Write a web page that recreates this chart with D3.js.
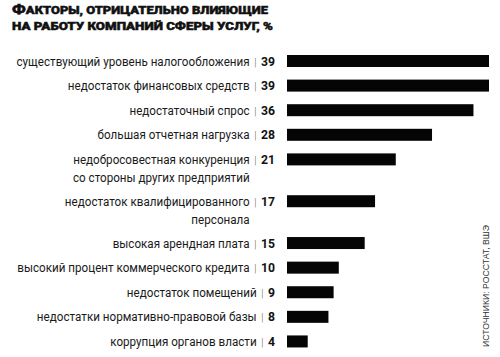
<!DOCTYPE html>
<html><head><meta charset="utf-8">
<script src="https://cdn.jsdelivr.net/npm/d3@7"></script>
<style>
html,body{margin:0;padding:0;background:#fff;}
svg{display:block;}
</style></head>
<body>
<script>
const titleLines = ["Факторы, отрицательно влияющие", "на работу компаний сферы услуг, %"];
const categories = [
  ["существующий уровень налогообложения"],
  ["недостаток финансовых средств"],
  ["недостаточный спрос"],
  ["большая отчетная нагрузка"],
  ["недобросовестная конкуренция", "со стороны других предприятий"],
  ["недостаток квалифицированного", "персонала"],
  ["высокая арендная плата"],
  ["высокий процент коммерческого кредита"],
  ["недостаток помещений"],
  ["недостатки нормативно-правовой базы"],
  ["коррупция органов власти"]
];
const values = [39, 39, 36, 28, 21, 17, 15, 10, 9, 8, 4];
const source = "ИСТОЧНИКИ: РОССТАТ, ВШЭ";

const W = 500, H = 357;
const svg = d3.select("body").append("svg").attr("width", W).attr("height", H);

// title
const tl = svg.append("g");
const titleW = [256, 261];
titleLines.forEach((t, i) => {
  const txt = tl.append("text")
    .attr("x", 12).attr("y", 13.5 + i * 16.5)
    .attr("font-family", "Roboto, sans-serif")
    .attr("font-weight", 900)
    .attr("fill", "#111")
    .attr("stroke", "#111")
    .attr("stroke-width", 0.45)
    .attr("textLength", titleW[i])
    .attr("lengthAdjust", "spacingAndGlyphs");
  if (i === 0) {
    txt.append("tspan").attr("font-size", 12.8).text(t[0].toUpperCase());
    txt.append("tspan").attr("font-size", 10).text(t.slice(1).toUpperCase());
  } else {
    txt.append("tspan").attr("font-size", 10).text(t.toUpperCase());
  }
});

// row positions (units: each row 1, each extra line 0.7)
const units = [];
let u = 0;
categories.forEach((c, i) => {
  if (i > 0) u += 1 + 0.7 * (categories[i - 1].length - 1);
  units.push(u);
});
const y = d3.scaleLinear().domain([0, 1]).range([61, 85.6]);
const x = d3.scaleLinear().domain([0, 39]).range([287, 489]);
const barH = 12;
const sx = 0.925;

const rows = svg.append("g").selectAll("g").data(values).join("g")
  .attr("transform", (d, i) => `translate(0,${y(units[i])})`);

rows.append("rect")
  .attr("x", x(0))
  .attr("y", -barH / 2)
  .attr("width", d => x(d) - x(0))
  .attr("height", barH)
  .attr("fill", "#050505");

rows.each(function (d, i) {
  const g = d3.select(this).append("g").attr("transform", `translate(275,0) scale(${sx},1)`);
  const lines = categories[i];
  const t = g.append("text")
    .attr("x", 0).attr("y", 4.5)
    .attr("text-anchor", "end")
    .attr("font-family", "Roboto, sans-serif")
    .attr("font-size", 12.6)
    .attr("fill", "#1a1a1a");
  t.append("tspan").text(lines[0]);
  t.append("tspan").attr("fill", "#555").attr("font-weight", 300).attr("font-size", 11).text("\u2009 | \u2009");
  t.append("tspan").attr("font-weight", 700).attr("font-size", 13.2).attr("fill", "#111").text(d);
  if (lines.length > 1) {
    const tmp = g.append("text").attr("font-family", "Roboto, sans-serif").attr("visibility", "hidden");
    tmp.append("tspan").attr("font-weight", 300).attr("font-size", 11).text("\u2009 | \u2009");
    tmp.append("tspan").attr("font-weight", 700).attr("font-size", 13.2).text(d);
    const off = tmp.node().getComputedTextLength();
    tmp.remove();
    g.append("text")
      .attr("x", -off).attr("y", 4.5 + 18)
      .attr("text-anchor", "end")
      .attr("font-family", "Roboto, sans-serif")
      .attr("font-size", 12.6)
      .attr("fill", "#1a1a1a")
      .text(lines[1]);
  }
});

// source
svg.append("text")
  .attr("transform", "translate(489,347) rotate(-90)")
  .attr("font-family", "Liberation Sans, Arial, sans-serif")
  .attr("font-size", 9)
  .attr("fill", "#333")
  .attr("textLength", 122)
  .attr("lengthAdjust", "spacingAndGlyphs")
  .text(source);
</script>
</body></html>
